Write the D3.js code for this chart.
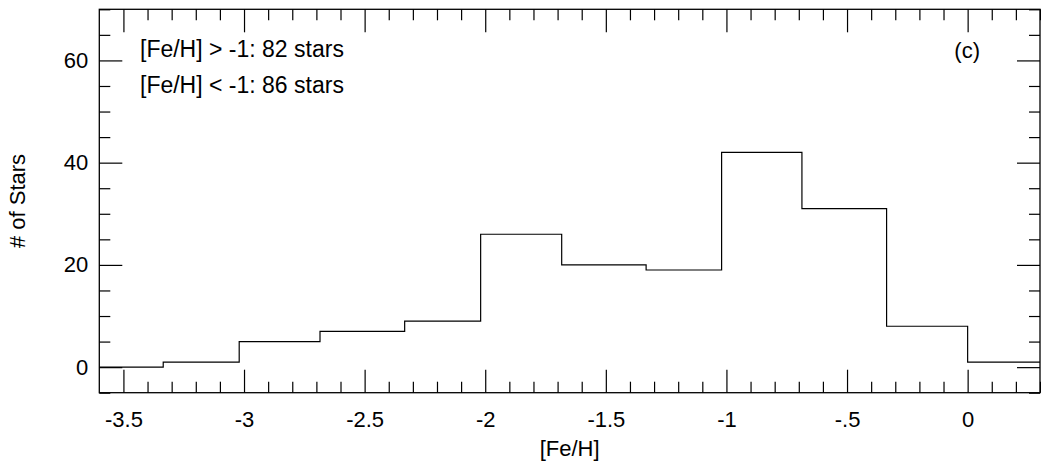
<!DOCTYPE html>
<html>
<head>
<meta charset="utf-8">
<script src="https://cdn.jsdelivr.net/npm/d3@7"></script>
<style>
  html, body { margin: 0; padding: 0; background: #fff; }
  svg { display: block; font-family: "Liberation Sans", Arial, Helvetica, sans-serif; }
</style>
</head>
<body>
<svg id="chart" width="1041" height="465"></svg>
<script>
// Metallicity histogram: bin edges in [Fe/H] and star counts per bin
const binEdges = [-3.67, -3.335, -3.02, -2.685, -2.334, -2.019, -1.683, -1.333, -1.02, -0.687, -0.336, 0.0, 0.333];
const binCounts = [0, 1, 5, 7, 9, 26, 20, 19, 42, 31, 8, 1];

// Axis ticks
const xMajorTicks = [-3.5, -3, -2.5, -2, -1.5, -1, -0.5, 0];
const xTickLabels = ["-3.5", "-3", "-2.5", "-2", "-1.5", "-1", "-.5", "0"];
const yMajorTicks = [0, 20, 40, 60];
const yTickLabels = ["0", "20", "40", "60"];

// Annotation text
const notes = ["[Fe/H] > -1: 82 stars", "[Fe/H] < -1: 86 stars"];
const panelTag = "(c)";

const plot = { left: 99.3, right: 1040, top: 9.3, bottom: 392.7 };
const FS = 22;

const svg = d3.select("#chart");

const x = d3.scaleLinear().domain([-3.6, 0.3]).range([plot.left, plot.right]);
const y = d3.scaleLinear().domain([-5, 70]).range([plot.bottom, plot.top]);

const xMinor = d3.range(-35, 4).map(d => d / 10).filter(v => !xMajorTicks.some(m => Math.abs(m - v) < 1e-9));
const yMinor = d3.range(-5, 71, 5).filter(v => !yMajorTicks.includes(v));

const fmtX = d => xTickLabels[xMajorTicks.findIndex(m => Math.abs(m - d) < 1e-9)];
const fmtY = d => yTickLabels[yMajorTicks.indexOf(d)];

function styleAxis(g) {
  g.select(".domain").remove();
  g.selectAll(".tick line").attr("stroke", "#000").attr("stroke-width", 1.2);
  g.selectAll(".tick text").attr("fill", "#000").attr("font-size", FS).attr("font-family", null);
}

// Bottom axis
svg.append("g").attr("transform", `translate(0,${plot.bottom})`)
  .call(d3.axisBottom(x).tickValues(xMajorTicks).tickSize(-23).tickPadding(19).tickFormat(fmtX))
  .call(styleAxis);
svg.append("g").attr("transform", `translate(0,${plot.bottom})`)
  .call(d3.axisBottom(x).tickValues(xMinor).tickSize(-11).tickFormat(""))
  .call(styleAxis);

// Top axis
svg.append("g").attr("transform", `translate(0,${plot.top})`)
  .call(d3.axisTop(x).tickValues(xMajorTicks).tickSize(-23).tickFormat(""))
  .call(styleAxis);
svg.append("g").attr("transform", `translate(0,${plot.top})`)
  .call(d3.axisTop(x).tickValues(xMinor).tickSize(-11).tickFormat(""))
  .call(styleAxis);

// Left axis
svg.append("g").attr("transform", `translate(${plot.left},0)`)
  .call(d3.axisLeft(y).tickValues(yMajorTicks).tickSize(-23).tickPadding(11).tickFormat(fmtY))
  .call(styleAxis);
svg.append("g").attr("transform", `translate(${plot.left},0)`)
  .call(d3.axisLeft(y).tickValues(yMinor).tickSize(-11).tickFormat(""))
  .call(styleAxis);

// Right axis
svg.append("g").attr("transform", `translate(${plot.right},0)`)
  .call(d3.axisRight(y).tickValues(yMajorTicks).tickSize(-23).tickFormat(""))
  .call(styleAxis);
svg.append("g").attr("transform", `translate(${plot.right},0)`)
  .call(d3.axisRight(y).tickValues(yMinor).tickSize(-11).tickFormat(""))
  .call(styleAxis);

// Histogram outline, clipped to the frame
svg.append("clipPath").attr("id", "frame-clip")
  .append("rect")
  .attr("x", plot.left).attr("y", plot.top)
  .attr("width", plot.right - plot.left).attr("height", plot.bottom - plot.top);

const stepPts = [];
binCounts.forEach((c, i) => {
  stepPts.push([binEdges[i], c]);
  stepPts.push([binEdges[i + 1], c]);
});
svg.append("path")
  .attr("clip-path", "url(#frame-clip)")
  .attr("d", d3.line().x(d => x(d[0])).y(d => y(d[1]))(stepPts))
  .attr("fill", "none")
  .attr("stroke", "#000")
  .attr("stroke-width", 1.2);

// Frame
svg.append("rect")
  .attr("x", plot.left).attr("y", plot.top)
  .attr("width", plot.right - plot.left).attr("height", plot.bottom - plot.top)
  .attr("fill", "none").attr("stroke", "#000").attr("stroke-width", 1.3);

// Axis titles
svg.append("text")
  .attr("x", (plot.left + plot.right) / 2).attr("y", 456)
  .attr("text-anchor", "middle").attr("font-size", FS)
  .text("[Fe/H]");
svg.append("text")
  .attr("transform", `translate(25,${(plot.top + plot.bottom) / 2}) rotate(-90)`)
  .attr("text-anchor", "middle").attr("font-size", FS)
  .text("# of Stars");

// Annotations
svg.selectAll("text.note").data(notes).join("text")
  .attr("class", "note")
  .attr("x", 140).attr("y", (d, i) => 57 + i * 36)
  .attr("font-size", 23)
  .text(d => d);
svg.append("text")
  .attr("x", 980).attr("y", 58)
  .attr("text-anchor", "end").attr("font-size", FS)
  .text(panelTag);
</script>
</body>
</html>
